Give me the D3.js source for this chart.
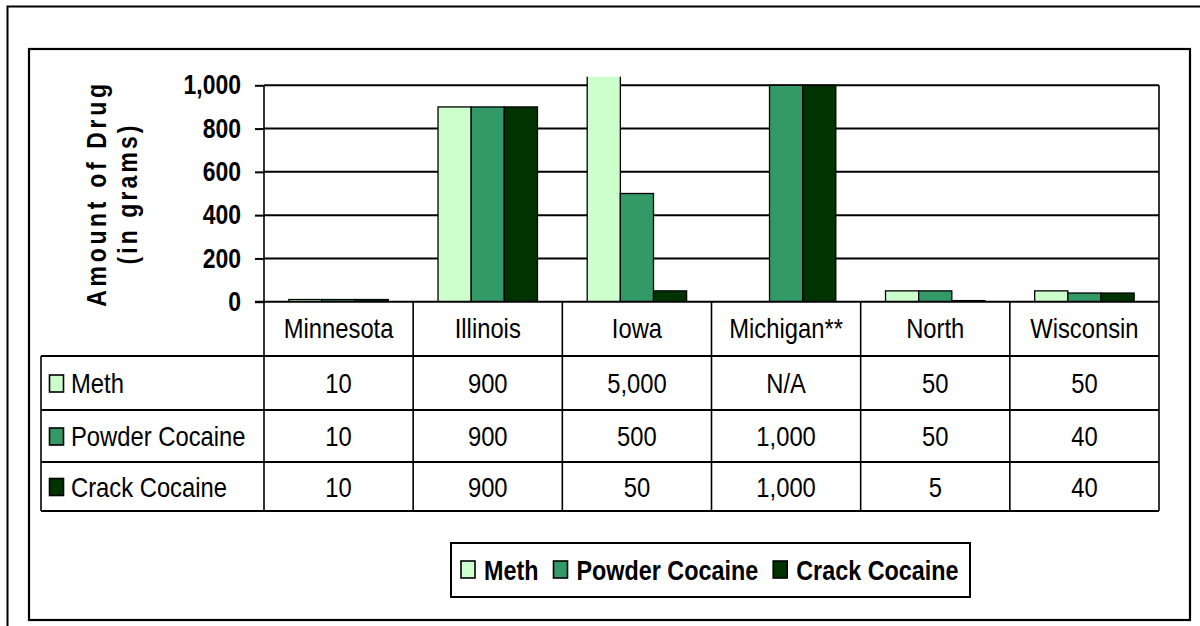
<!DOCTYPE html>
<html>
<head>
<meta charset="utf-8">
<script src="https://cdn.jsdelivr.net/npm/d3@7"></script>
<style>
  html, body { margin: 0; padding: 0; background: #fff; }
  svg { display: block; }
</style>
</head>
<body>
<svg id="chart" width="1200" height="626"></svg>
<script>
// ---- Data ----
const categories = ["Minnesota", "Illinois", "Iowa", "Michigan**", "North", "Wisconsin"];
const seriesNames = ["Meth", "Powder Cocaine", "Crack Cocaine"];
const methValues = [10, 900, 5000, null, 50, 50];
const powderValues = [10, 900, 500, 1000, 50, 40];
const crackValues = [10, 900, 50, 1000, 5, 40];
const seriesColors = ["#CCFFCC", "#339966", "#003300"];
const yTicks = [0, 200, 400, 600, 800, 1000];
const yTitleLines = ["Amount of Drug", "(in grams)"];

const seriesValues = [methValues, powderValues, crackValues];

// ---- Fonts (Arial Narrow look: Liberation Sans condensed horizontally) ----
const FONT = "'Liberation Sans', Arial, sans-serif";
const SX = 0.82;

// ---- Layout ----
const plot = { left: 264, right: 1159, top: 85.3, bottom: 301.7 };
const table = { left: 41, rows: [301.7, 356, 410, 462, 511] };

const svg = d3.select("#chart");

function ntext(parent, x, y, str, opts) {
  const o = Object.assign({ size: 26, bold: false, anchor: "start", sx: SX }, opts || {});
  return parent.append("text")
    .attr("transform", `translate(${x},${y}) scale(${o.sx},1)`)
    .attr("dy", "0.36em")
    .attr("text-anchor", o.anchor)
    .style("font-family", FONT)
    .style("font-weight", o.bold ? "bold" : "normal")
    .style("font-size", o.size + "px")
    .attr("fill", "#000")
    .text(str);
}

// outer frames
svg.append("path")
  .attr("d", "M7.5,626 L7.5,6.5 L1200,6.5")
  .attr("fill", "none").attr("stroke", "#000").attr("stroke-width", 2);
svg.append("rect")
  .attr("x", 29).attr("y", 49).attr("width", 1161).attr("height", 571)
  .attr("fill", "none").attr("stroke", "#000").attr("stroke-width", 2.2);

// scales
const x0 = d3.scaleBand().domain(categories).range([plot.left, plot.right]).padding(0);
const x1 = d3.scaleBand().domain(seriesNames).range([0, x0.bandwidth()])
  .paddingInner(0).paddingOuter(0.75);
const y = d3.scaleLinear().domain([0, 1000]).range([plot.bottom, plot.top]);
const color = d3.scaleOrdinal().domain(seriesNames).range(seriesColors);

// gridlines
svg.append("g").selectAll("line").data(yTicks.filter(d => d > 0)).join("line")
  .attr("x1", plot.left).attr("x2", plot.right)
  .attr("y1", d => y(d)).attr("y2", d => y(d))
  .attr("stroke", "#000").attr("stroke-width", 2);

// y axis (ticks from d3 axis, labels drawn condensed)
const yAxis = d3.axisLeft(y).tickValues(yTicks).tickFormat(d3.format(",")).tickSize(9);
const ya = svg.append("g").attr("transform", `translate(${plot.left},0)`).call(yAxis);
ya.select(".domain").remove();
ya.selectAll(".tick line").attr("stroke", "#000").attr("stroke-width", 2);
ya.selectAll(".tick text").remove();
const tickFmt = d3.format(",");
yTicks.forEach(t => {
  ntext(svg, 241, y(t) - 1, tickFmt(t), { size: 28, bold: true, anchor: "end" });
});

// clip for bars (allow small overflow above the plot like the original)
svg.append("clipPath").attr("id", "barclip")
  .append("rect").attr("x", plot.left).attr("y", plot.top - 8.5)
  .attr("width", plot.right - plot.left).attr("height", plot.bottom - plot.top + 8.5);

// bars
const barData = [];
categories.forEach((c, i) => {
  seriesNames.forEach((s, j) => {
    const v = seriesValues[j][i];
    if (v !== null) barData.push({ cat: c, series: s, value: v });
  });
});
svg.append("g").attr("clip-path", "url(#barclip)")
  .selectAll("rect").data(barData).join("rect")
  .attr("x", d => x0(d.cat) + x1(d.series))
  .attr("width", x1.bandwidth())
  .attr("y", d => y(d.value))
  .attr("height", d => y(0) - y(d.value))
  .attr("fill", d => color(d.series))
  .attr("stroke", "#000").attr("stroke-width", 1.3);

// ---- data table ----
const tg = svg.append("g");
const rows = table.rows;
tg.append("line").attr("x1", plot.left - 9).attr("x2", plot.right).attr("y1", rows[0]).attr("y2", rows[0])
  .attr("stroke", "#000").attr("stroke-width", 2);
rows.slice(1).forEach(ry => {
  tg.append("line").attr("x1", table.left).attr("x2", plot.right).attr("y1", ry).attr("y2", ry)
    .attr("stroke", "#000").attr("stroke-width", 2);
});
tg.append("line").attr("x1", table.left).attr("x2", table.left).attr("y1", rows[1]).attr("y2", rows[4])
  .attr("stroke", "#000").attr("stroke-width", 1.6);
tg.append("line").attr("x1", plot.left).attr("x2", plot.left).attr("y1", plot.top).attr("y2", rows[4])
  .attr("stroke", "#000").attr("stroke-width", 1.6);
tg.selectAll("line.col").data(categories).join("line").attr("class", "col")
  .attr("x1", d => x0(d) + x0.bandwidth()).attr("x2", d => x0(d) + x0.bandwidth())
  .attr("y1", (d, i) => i === categories.length - 1 ? plot.top : rows[0])
  .attr("y2", rows[4])
  .attr("stroke", "#000").attr("stroke-width", 1.6);

const TSIZE = 28, TSX = 0.85;
// header labels
categories.forEach(c => {
  ntext(tg, x0(c) + x0.bandwidth() / 2, (rows[0] + rows[1]) / 2 - 1, c, { size: TSIZE, anchor: "middle", sx: TSX });
});

// row labels & values
const fmt = d3.format(",");
seriesNames.forEach((s, j) => {
  const cy = (rows[j + 1] + rows[j + 2]) / 2;
  tg.append("rect").attr("x", 49.5).attr("y", cy - 8).attr("width", 14).attr("height", 17)
    .attr("fill", seriesColors[j]).attr("stroke", "#000").attr("stroke-width", 1.6);
  ntext(tg, 71, cy, s, { size: TSIZE, sx: TSX });
  categories.forEach((c, i) => {
    const v = seriesValues[j][i];
    ntext(tg, x0(c) + x0.bandwidth() / 2, cy, v === null ? "N/A" : fmt(v), { size: TSIZE, anchor: "middle", sx: TSX });
  });
});

// y title
const titleCy = (plot.top + plot.bottom) / 2;
[106, 137].forEach((bx, k) => {
  svg.append("text")
    .attr("transform", `translate(${bx},${titleCy}) rotate(-90) scale(${SX},1)`)
    .attr("text-anchor", "middle")
    .style("font-family", FONT).style("font-weight", "bold").style("font-size", "28px")
    .style("letter-spacing", k === 0 ? "4.5px" : "3.8px")
    .text(yTitleLines[k]);
});

// legend
const lg = svg.append("g");
lg.append("rect").attr("x", 451).attr("y", 543).attr("width", 519).attr("height", 54)
  .attr("fill", "#fff").attr("stroke", "#000").attr("stroke-width", 2);
let lx = 461;
seriesNames.forEach((s, j) => {
  lg.append("rect").attr("x", lx).attr("y", 561).attr("width", 14).attr("height", 17)
    .attr("fill", seriesColors[j]).attr("stroke", "#000").attr("stroke-width", 1.6);
  const t = ntext(lg, lx + 23, 570, s, { size: 28.5, bold: true });
  lx = lx + 23 + t.node().getComputedTextLength() * SX + 15;
});
</script>
</body>
</html>
